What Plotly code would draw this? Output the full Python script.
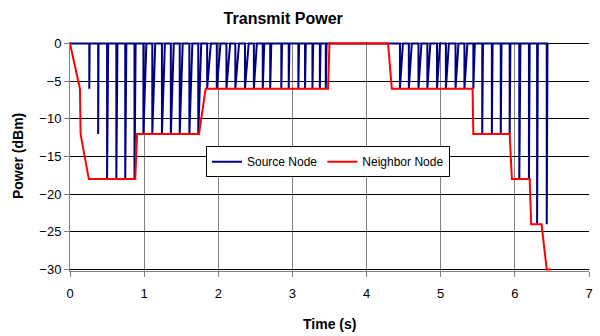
import plotly.graph_objects as go

# ---- data ----
# Neighbor Node power trace (time s, power dBm)
neighbor_t = [0.0, 0.134, 0.143, 0.254, 0.88, 0.905, 1.74, 1.83, 3.48, 3.50, 4.29, 4.34,
              5.43, 5.44, 5.93, 5.96, 6.20, 6.22, 6.36, 6.43, 6.49]
neighbor_p = [0, -6, -12, -18, -18, -12, -12, -6, -6, 0, 0, -6,
              -6, -12, -12, -18, -18, -24, -24, -30, -30]

# Source Node: transmissions (drop time, power level, time back at 0 dBm)
spike_t = [0.26, 0.38, 0.50, 0.625, 0.745, 0.87,
           0.99, 1.11, 1.24, 1.36, 1.48, 1.61, 1.73,
           1.85, 1.98, 2.11, 2.23, 2.36, 2.48, 2.60, 2.70, 2.85, 2.95, 3.08, 3.17, 3.27, 3.37, 3.45,
           4.45, 4.57, 4.70, 4.82, 4.95, 5.07, 5.20, 5.32, 5.44,
           5.56, 5.69, 5.81, 5.93, 6.06, 6.19, 6.30, 6.43]
spike_p = [-6, -12, -18, -18, -18, -18,
           -12, -12, -12, -12, -12, -12, -12,
           -6, -6, -6, -6, -6, -6, -6, -6, -6, -6, -6, -6, -6, -6, -6,
           -6, -6, -6, -6, -6, -6, -6, -6, -6,
           -12, -12, -12, -12, -18, -18, -24, -24]
spike_back = [0.265, 0.385, 0.515, 0.64, 0.76, 0.885,
              1.03, 1.15, 1.28, 1.40, 1.52, 1.65, 1.77,
              1.90, 2.03, 2.16, 2.28, 2.41, 2.52, 2.62, 2.715, 2.86, 2.96, 3.09, 3.18, 3.28, 3.38, 3.46,
              4.49, 4.61, 4.74, 4.86, 4.99, 5.11, 5.24, 5.36, 5.46,
              5.57, 5.70, 5.82, 5.94, 6.075, 6.20, 6.31, 6.44]
source_start, source_end = 0.0, 6.45

x_ticks = [0, 1, 2, 3, 4, 5, 6, 7]
y_ticks = [0, -5, -10, -15, -20, -25, -30]

# build source trace from the transmission list
src_t, src_p = [source_start], [0]
for t, p, b in zip(spike_t, spike_p, spike_back):
    src_t += [t, t, b]
    src_p += [0, p, 0]
src_t.append(source_end)
src_p.append(0)

FONT = "Liberation Sans, Arial, sans-serif"

fig = go.Figure()
fig.add_trace(go.Scatter(x=src_t, y=src_p, mode="lines", name="Source Node",
                         line=dict(color="#000080", width=2)))
fig.add_trace(go.Scatter(x=neighbor_t, y=neighbor_p, mode="lines", name="Neighbor Node",
                         line=dict(color="#FF0000", width=2)))

fig.update_layout(
    width=600, height=336,
    margin=dict(l=70, r=7, t=41.5, b=64.5),
    paper_bgcolor="white", plot_bgcolor="white",
    font=dict(family=FONT, size=13, color="black"),
    showlegend=True,
    legend=dict(orientation="h", x=0.262, y=0.545, xanchor="left", yanchor="top",
                bordercolor="black", borderwidth=1, bgcolor="white",
                font=dict(size=12), tracegroupgap=0),
    title=dict(text="<b>Transmit Power</b>", x=0.472, xref="container", xanchor="center",
               y=0.946, yref="container", yanchor="middle", font=dict(size=16)),
    xaxis=dict(range=[0, 7], tickvals=x_ticks, showgrid=True, gridcolor="#808080", gridwidth=1,
               showline=True, linecolor="#808080", linewidth=1, zeroline=False,
               ticks="outside", ticklen=5, tickcolor="#808080", ticklabelstandoff=5),
    yaxis=dict(range=[-30.2, 0.2], tickvals=y_ticks, showgrid=True, gridcolor="black", gridwidth=1,
               showline=True, linecolor="#808080", linewidth=1, zeroline=False,
               ticks="outside", ticklen=5, tickcolor="#808080"),
    annotations=[
        dict(text="<b>Time (s)</b>", xref="paper", yref="paper", x=0.5, y=-0.2326,
             xanchor="center", yanchor="middle", showarrow=False, font=dict(size=14)),
        dict(text="<b>Power (dBm)</b>", xref="paper", yref="paper", x=-0.101, y=0.5,
             xanchor="center", yanchor="middle", textangle=-90, showarrow=False,
             font=dict(size=14)),
    ],
)

fig.write_html("out.html")
